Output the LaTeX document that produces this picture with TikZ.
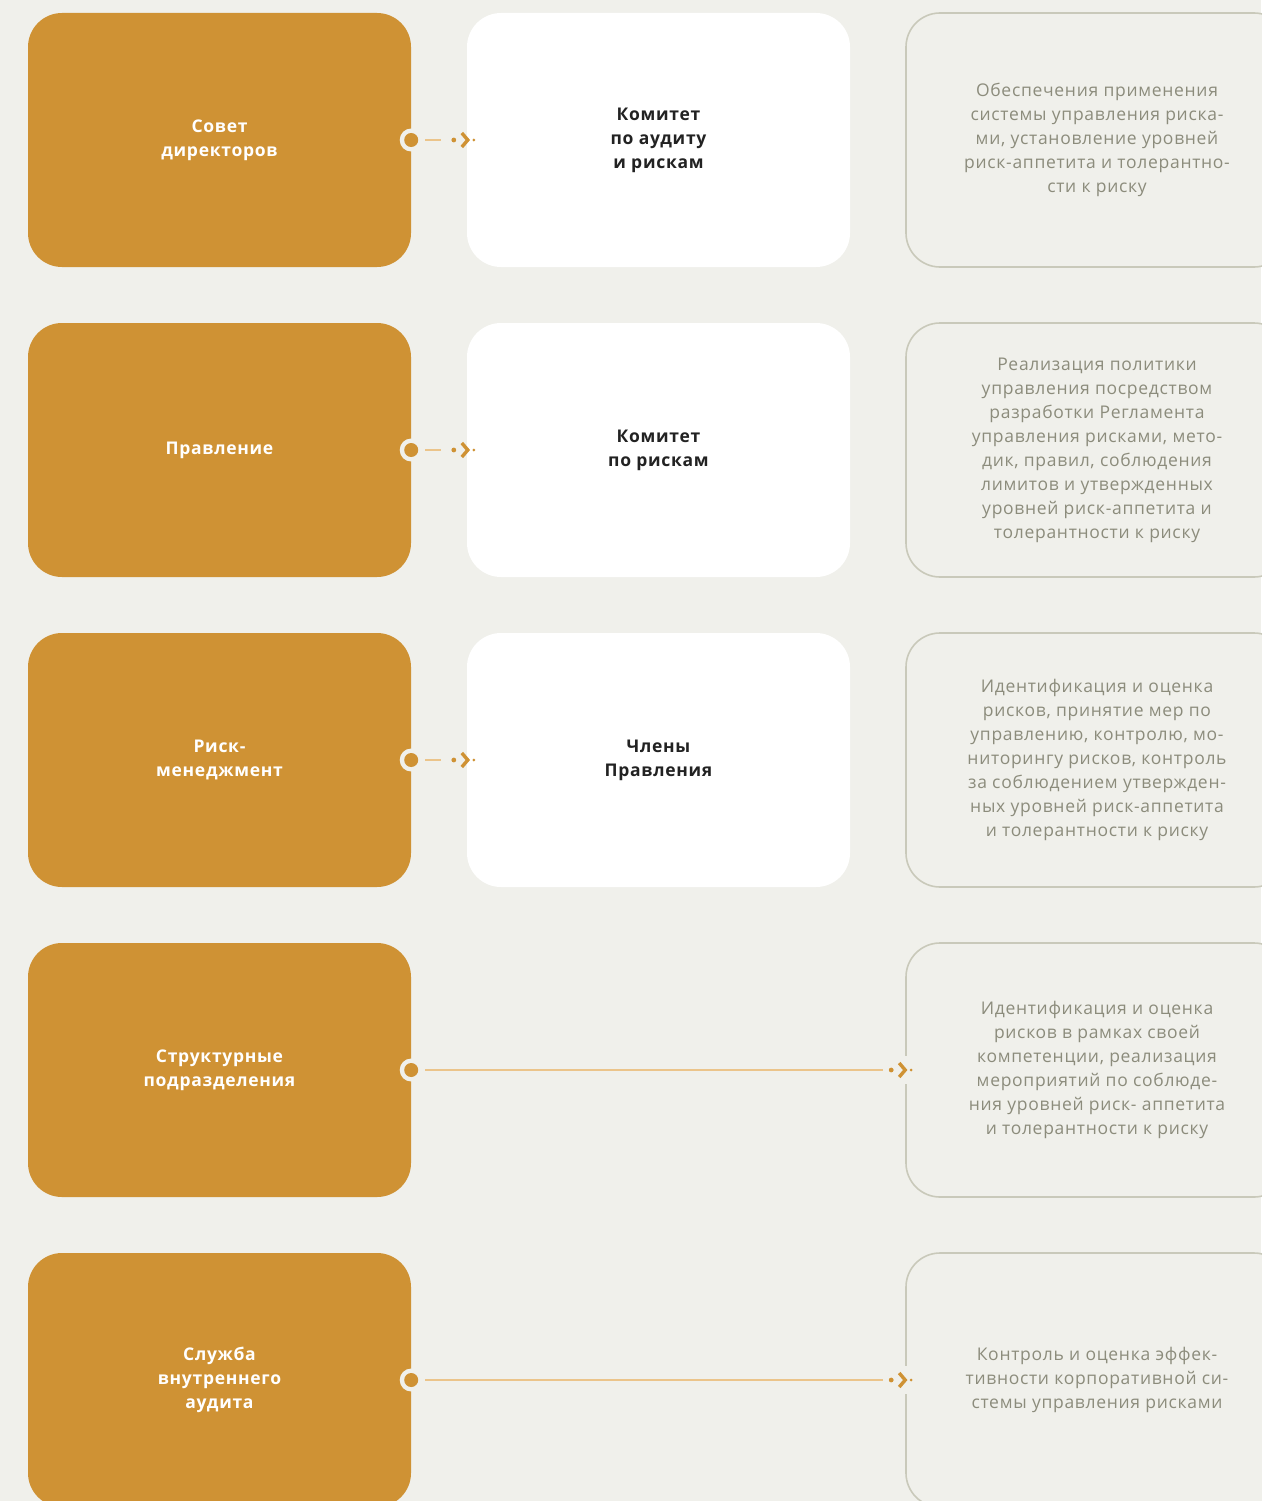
\documentclass[tikz,border=0pt]{standalone}
\usepackage{fontspec}
\setmainfont{Open Sans}[LetterSpace=4]
\usetikzlibrary{calc}
\definecolor{bg}{HTML}{F0F0EB}
\definecolor{ochre}{HTML}{CF9234}
\definecolor{ochrelight}{HTML}{EBC48A}
\definecolor{frame}{HTML}{C9C9BA}
\definecolor{note}{HTML}{8C8C7C}
\definecolor{ink}{HTML}{222222}
\tikzset{
  unitbox/.style={rectangle, rounded corners=34pt, minimum width=383pt, minimum height=254pt, inner sep=0pt},
  rolebox/.style={unitbox, fill=ochre, text=white, font=\fontsize{17.5pt}{24pt}\selectfont\bfseries, align=center},
  bodybox/.style={unitbox, fill=white, text=ink, font=\fontsize{17.5pt}{24pt}\selectfont\bfseries, align=center},
  taskbox/.style={unitbox, minimum width=382pt, draw=frame, line width=1.6pt, fill=bg, text=note, font=\fontsize{17.5pt}{24pt}\selectfont, align=center},
  link/.style={draw=ochrelight, line width=1.6pt},
  chev/.style={draw=ochre, line width=3.4pt, line cap=butt, line join=miter},
}
% connector start: ring with dot on the box edge
\newcommand{\linkstart}[1]{%
  \fill[bg] (#1) circle (11.5pt);
  \fill[ochre] (#1) circle (7pt);}
% connector end: dot, chevron, dot
\newcommand{\linkend}[1]{%
  \fill[ochre] ($(#1)+(-11,0)$) circle (2.4pt);
  \draw[chev] ($(#1)+(-3,-7)$) -- ($(#1)+(3,0)$) -- ($(#1)+(-3,7)$);
  \fill[ochre] ($(#1)+(9,0)$) circle (1.5pt);}
\begin{document}
\begin{tikzpicture}[x=1pt,y=-1pt]
\useasboundingbox (0,0) rectangle (1261,1501);
\fill[bg] (0,0) rectangle (1261,1501);

% left column: roles
\node[rolebox] (o1) at (219.5,140) {Совет\\директоров};
\node[rolebox] (o2) at (219.5,450) {Правление};
\node[rolebox] (o3) at (219.5,760) {Риск-\\менеджмент};
\node[rolebox] (o4) at (219.5,1070) {Структурные\\подразделения};
\node[rolebox] (o5) at (219.5,1380) {Служба\\внутреннего\\аудита};

% middle column: bodies
\node[bodybox] (w1) at (658.5,140) {Комитет\\по аудиту\\и рискам};
\node[bodybox] (w2) at (658.5,450) {Комитет\\по рискам};
\node[bodybox] (w3) at (658.5,760) {Члены\\Правления};

% right column: responsibilities
\node[taskbox] (r1) at (1097,140) {Обеспечения применения\\системы управления риска-\\ми, установление уровней\\риск-аппетита и толерантно-\\сти к риску};
\node[taskbox] (r2) at (1097,450) {Реализация политики\\управления посредством\\разработки Регламента\\управления рисками, мето-\\дик, правил, соблюдения\\лимитов и утвержденных\\уровней риск-аппетита и\\толерантности к риску};
\node[taskbox] (r3) at (1097,760) {Идентификация и оценка\\рисков, принятие мер по\\управлению, контролю, мо-\\ниторингу рисков, контроль\\за соблюдением утвержден-\\ных уровней риск-аппетита\\и толерантности к риску};
\node[taskbox] (r4) at (1097,1070) {Идентификация и оценка\\рисков в рамках своей\\компетенции, реализация\\мероприятий по соблюде-\\ния уровней риск- аппетита\\и толерантности к риску};
\node[taskbox] (r5) at (1097,1380) {Контроль и оценка эффек-\\тивности корпоративной си-\\стемы управления рисками};

% short connectors: role -> body
\foreach \i in {1,2,3}{
  \coordinate (e\i) at ($(w\i.west)+(-2,0)$);
  \draw[link] ($(o\i.east)+(14,0)$) -- ($(e\i)+(-24,0)$);
  \linkstart{o\i.east}
  \linkend{e\i}
}
% long connectors: role -> responsibility
\foreach \i in {4,5}{
  \coordinate (e\i) at ($(r\i.west)+(-3,0)$);
  \fill[bg] ($(r\i.west)+(-4,-14)$) rectangle ($(r\i.west)+(4,14)$);
  \draw[link] ($(o\i.east)+(14,0)$) -- ($(e\i)+(-19,0)$);
  \linkstart{o\i.east}
  \linkend{e\i}
}
\end{tikzpicture}
\end{document}
